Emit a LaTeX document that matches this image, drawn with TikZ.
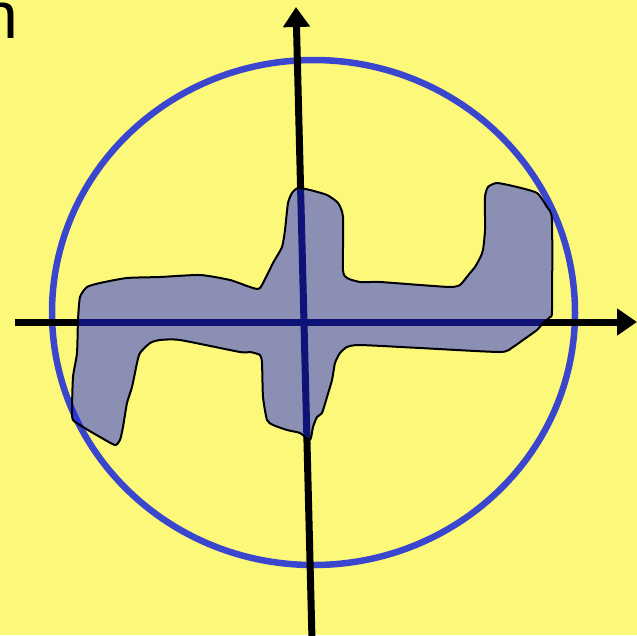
\documentclass[tikz,border=0pt]{standalone}
\usepackage{fontspec}
\setmainfont{Liberation Sans}
\usetikzlibrary{arrows.meta}
\definecolor{bgyellow}{RGB}{252,249,122}
\definecolor{ringblue}{RGB}{58,70,205}
\definecolor{blobblue}{RGB}{28,38,238}
\tikzset{
  axis/.style={line width=7pt, black, -{Triangle[length=20pt,width=26pt]}},
  ring/.style={line width=6.5pt, ringblue},
  blob/.style={draw=black, line width=2pt, fill=blobblue, fill opacity=0.5, line join=round}
}
\begin{document}
\begin{tikzpicture}[x=1pt,y=-1pt]
\useasboundingbox (0,0) rectangle (637,635);
\fill[bgyellow] (0,0) rectangle (637,635);
\node[inner sep=0pt, anchor=base east, font=\fontsize{66}{66}\selectfont] (letter) at (18,38) {n};
\coordinate (c) at (313.5,312.5);
\draw[ring] (c) ellipse [x radius=261.5, y radius=252.5];
\coordinate (xl) at (15,322);
\coordinate (xr) at (637,322);
\coordinate (yb) at (312,640);
\coordinate (yt) at (296,7);
\draw[axis] (xl) -- (xr);
\draw[axis] (yb) -- (yt);
\draw[blob] plot[smooth cycle, tension=0.35] coordinates {
 (298,188) (310,190) (327,195) (338,203) (343,217) (343,270) (347,278) (360,282)
 (380,282) (420,285) (450,287) (460,285) (470,273) (475,267) (480,258) (483,250)
 (485,230) (485,197) (488,187) (497,183) (517,187) (537,193) (547,207) (552,220)
 (552,310) (550,317) (543,323) (537,330) (523,340) (513,347) (500,352) (420,348)
 (360,345) (347,347) (340,353) (335,363) (332,380) (327,397) (322,413) (317,417)
 (313,427) (310,440) (300,433) (287,430) (273,425) (267,420) (263,397) (262,363)
 (260,355) (250,352) (240,352) (180,340) (160,340) (150,343) (140,353) (137,363)
 (132,387) (127,403) (123,427) (120,440) (115,445) (100,437) (83,427) (73,420)
 (72,410) (73,377) (77,353) (78,320) (80,297) (87,287) (100,283) (127,278)
 (160,277) (200,275) (230,280) (250,287) (260,288) (273,263) (282,247) (285,230)
 (288,203) (292,193)
};
\end{tikzpicture}
\end{document}
